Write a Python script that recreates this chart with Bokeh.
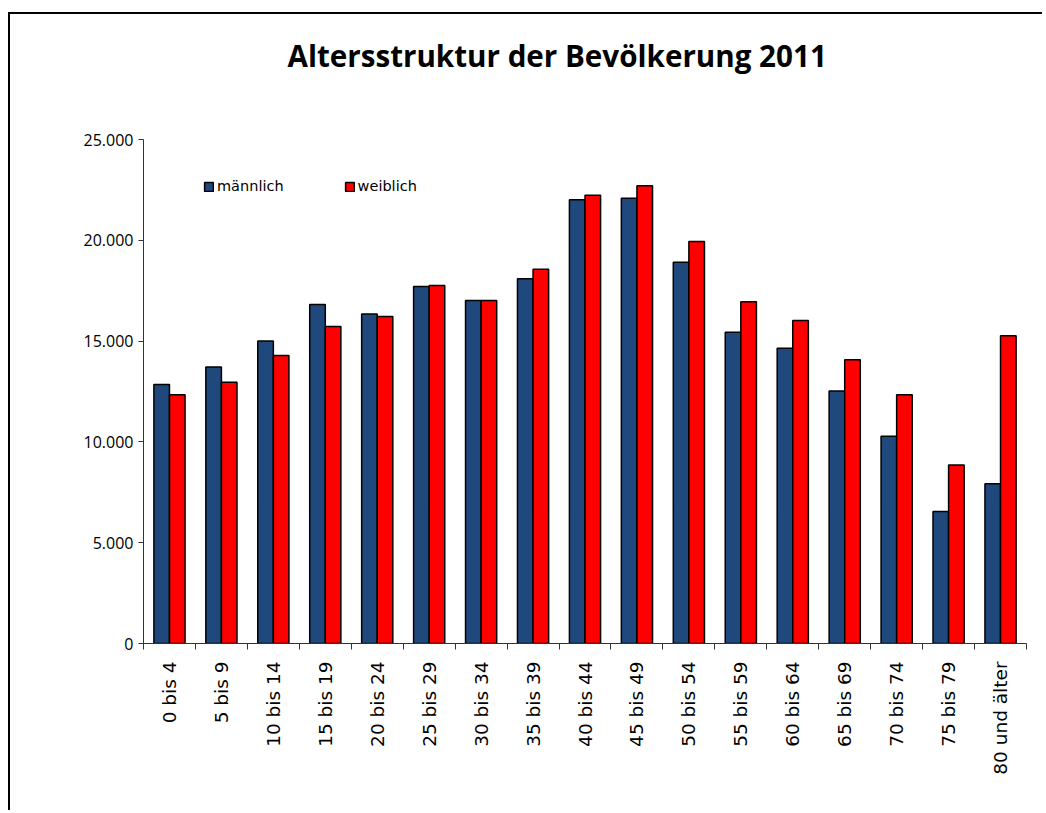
import math
from bokeh.plotting import figure
from bokeh.models import (ColumnDataSource, FixedTicker, Legend, LegendItem, Title,
                          Range1d)
from bokeh.embed import file_html
from bokeh.resources import INLINE

# ---- data ----
categories = ["0 bis 4", "5 bis 9", "10 bis 14", "15 bis 19", "20 bis 24", "25 bis 29",
              "30 bis 34", "35 bis 39", "40 bis 44", "45 bis 49", "50 bis 54", "55 bis 59",
              "60 bis 64", "65 bis 69", "70 bis 74", "75 bis 79", "80 und älter"]
maennlich = [12850, 13710, 15010, 16820, 16350, 17710, 17010, 18090, 22010,
             22090, 18910, 15440, 14650, 12530, 10280, 6550, 7920]
weiblich = [12340, 12960, 14290, 15720, 16220, 17760, 17010, 18570, 22240,
            22700, 19940, 16950, 16020, 14070, 12340, 8850, 15260]
y_ticks = [0, 5000, 10000, 15000, 20000, 25000]
y_tick_labels = ["0", "5.000", "10.000", "15.000", "20.000", "25.000"]
title_text = "Altersstruktur der Bevölkerung 2011"
series_names = ["männlich", "weiblich"]

n = len(categories)
centers = [i + 0.5 for i in range(n)]
bar_w = 0.3

src = ColumnDataSource(dict(
    xm=[c - bar_w / 2 for c in centers],
    xw=[c + bar_w / 2 for c in centers],
    m=maennlich, w=weiblich,
))

p = figure(width=1034, height=798, output_backend="svg", toolbar_location=None,
           x_range=Range1d(0, n), y_range=Range1d(0, 25000),
           min_border_left=133, min_border_right=18, min_border_top=125,
           min_border_bottom=169)
p.styles = {"margin-top": "12px", "margin-left": "8px",
            "border-top": "2px solid black", "border-left": "2px solid black"}
p.outline_line_color = None
p.xgrid.visible = False
p.ygrid.visible = False
p.background_fill_color = "white"
p.border_fill_color = "white"

r_m = p.vbar(x="xm", top="m", width=bar_w, source=src, fill_color="#1F497D",
             line_color="black", line_width=1.5)
r_w = p.vbar(x="xw", top="w", width=bar_w, source=src, fill_color="#FF0000",
             line_color="black", line_width=1.5)

# y axis
yax = p.yaxis[0]
yax.ticker = FixedTicker(ticks=y_ticks, minor_ticks=[])
yax.major_label_overrides = {t: l for t, l in zip(y_ticks, y_tick_labels)}
yax.major_tick_out = 5
yax.major_tick_in = 0
yax.minor_tick_out = 0
yax.minor_tick_in = 0
yax.major_label_standoff = 5
yax.major_label_text_font = "Open Sans"
yax.major_label_text_font_size = "16px"
yax.major_label_text_color = "black"
yax.axis_line_color = "#333333"
yax.major_tick_line_color = "#333333"

# x axis
xax = p.xaxis[0]
xax.ticker = FixedTicker(ticks=centers, minor_ticks=list(range(n + 1)))
xax.major_label_overrides = {c: lab for c, lab in zip(centers, categories)}
xax.major_label_orientation = math.pi / 2
xax.major_tick_out = 0
xax.major_tick_in = 0
xax.minor_tick_out = 6
xax.minor_tick_in = 0
xax.minor_tick_line_color = "#333333"
xax.axis_line_color = "#333333"
xax.major_label_standoff = 12
xax.major_label_text_font = "DejaVu Sans"
xax.major_label_text_font_size = "18.5px"
xax.major_label_text_color = "black"

# title (a blank spacer title next to the frame pushes the real title upward)
p.add_layout(Title(text=" ", text_font_size="42px"), "above")
p.add_layout(Title(text=title_text, align="left", offset=144,
                   text_font="Open Sans", text_font_style="bold",
                   text_font_size="29.6px", text_color="black"), "above")

# legend
legend = Legend(items=[LegendItem(label=series_names[0], renderers=[r_m]),
                       LegendItem(label=series_names[1], renderers=[r_w])],
                location=(60, 449), orientation="horizontal",
                glyph_width=11, glyph_height=11, label_standoff=3, spacing=60,
                padding=0, margin=0, label_height=16,
                label_text_font="DejaVu Sans", label_text_font_size="14.5px",
                label_text_color="black",
                border_line_color=None, background_fill_alpha=0)
p.add_layout(legend)

open("out.html", "w").write(file_html(p, INLINE))
